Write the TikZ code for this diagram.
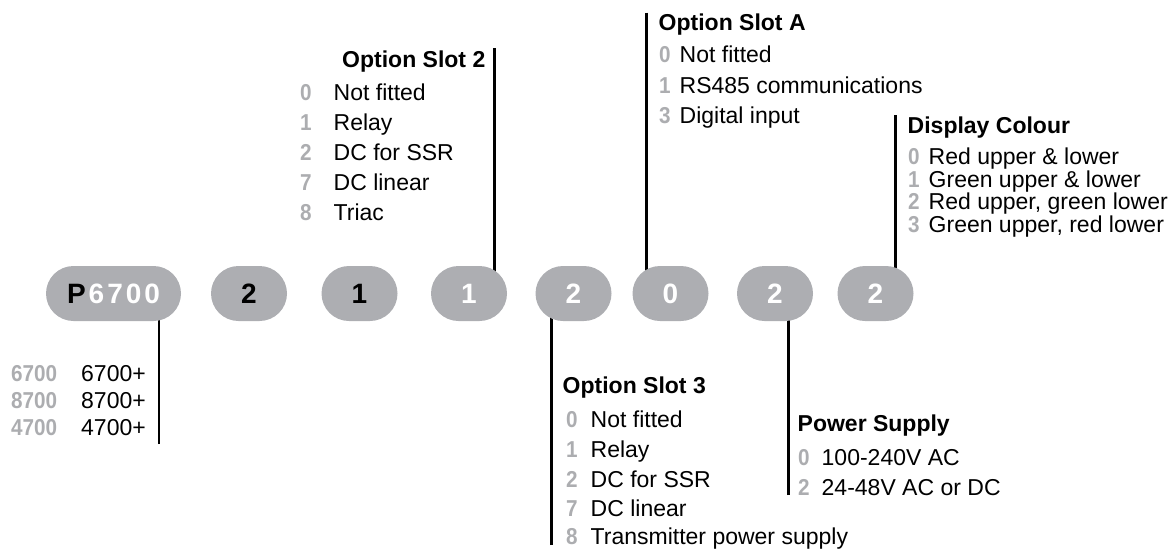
\documentclass[tikz,border=0pt]{standalone}
\usepackage{fontspec}
\setmainfont{Liberation Sans}
\usetikzlibrary{backgrounds}
\definecolor{pillgray}{RGB}{173,174,178}
\definecolor{digitgray}{RGB}{172,173,176}
\newcommand\cd[1]{\scalebox{0.9}[1]{#1}}
\tikzset{
  pill/.style={draw=none, fill=pillgray, rounded corners=27.5pt, minimum width=76pt,
    minimum height=55pt, inner sep=0pt, font=\fontsize{28}{30}\selectfont\bfseries},
  leader/.style={line width=2.7pt, draw=black},
  heading/.style={inner sep=0pt, font=\fontsize{23}{26}\selectfont\bfseries, anchor=base west},
  item/.style={inner sep=0pt, font=\fontsize{23}{26}\selectfont, anchor=base west},
  code/.style={inner sep=0pt, font=\fontsize{23}{26}\selectfont\bfseries, text=digitgray, anchor=base west},
}
\begin{document}
\begin{tikzpicture}[x=1pt,y=-1pt]
\useasboundingbox (0,0) rectangle (1175,549);

% code pills
\node[pill, minimum width=135pt] (p1) at (113.5,293.5) {P\kern3pt\textcolor{white}{6\kern3pt7\kern3pt0\kern3pt0}};
\node[pill] (p2) at (249,293.5) {2};
\node[pill] (p3) at (359.5,293.5) {1};
\node[pill, text=white] (p4) at (469,293.5) {1};
\node[pill, text=white] (p5) at (573.5,293.5) {2};
\node[pill, text=white] (p6) at (670.5,293.5) {0};
\node[pill, text=white] (p7) at (775,293.5) {2};
\node[pill, text=white] (p8) at (875.5,293.5) {2};

% leader ends
\coordinate (e1) at (159,444);
\coordinate (e2) at (494.5,48.3);
\coordinate (e3) at (551.5,545);
\coordinate (eA) at (646.7,12.7);
\coordinate (eP) at (788.7,495);
\coordinate (eD) at (895.8,115);

\begin{scope}[on background layer]
\draw[leader] (e1) -- (e1 |- p1.center);
\draw[leader] (e2) -- (e2 |- p4.center);
\draw[leader] (e3) -- (e3 |- p5.center);
\draw[leader] (eA) -- (eA |- p6.center);
\draw[leader] (eP) -- (eP |- p7.center);
\draw[leader] (eD) -- (eD |- p8.center);
\end{scope}

% model list
\node[code] (c67) at (11,381.7) {\cd{6700}};
\node[item] (t67) at (81,381.7) {6700+};
\node[code] (c87) at (11,408.7) {\cd{8700}};
\node[item] (t87) at (81,408.7) {8700+};
\node[code] (c47) at (11,435.2) {\cd{4700}};
\node[item] (t47) at (81,435.2) {4700+};

% Option Slot 2
\node[heading, anchor=base east] (h2) at (485.5,67.2) {Option Slot 2};
\node[code] (s2c0) at (300,100) {\cd{0}};
\node[item] (s2t0) at (333.5,100) {Not fitted};
\node[code] (s2c1) at (300,130) {\cd{1}};
\node[item] (s2t1) at (333.5,130) {Relay};
\node[code] (s2c2) at (300,160) {\cd{2}};
\node[item] (s2t2) at (333.5,160) {DC for SSR};
\node[code] (s2c7) at (300,190) {\cd{7}};
\node[item] (s2t7) at (333.5,190) {DC linear};
\node[code] (s2c8) at (300,220) {\cd{8}};
\node[item] (s2t8) at (333.5,220) {Triac};

% Option Slot A
\node[heading] (hA) at (658.5,30.9) {Option Slot A};
\node[code] (sAc0) at (659,62.5) {\cd{0}};
\node[item] (sAt0) at (679.5,62.5) {Not fitted};
\node[code] (sAc1) at (659,93) {\cd{1}};
\node[item] (sAt1) at (679.5,93) {RS485 communications};
\node[code] (sAc3) at (659,123.5) {\cd{3}};
\node[item] (sAt3) at (679.5,123.5) {Digital input};

% Display Colour
\node[heading] (hD) at (907.5,133.8) {Display Colour};
\node[code] (sDc0) at (908,164.9) {\cd{0}};
\node[item] (sDt0) at (928.5,164.9) {Red upper \& lower};
\node[code] (sDc1) at (908,187.2) {\cd{1}};
\node[item] (sDt1) at (928.5,187.2) {Green upper \& lower};
\node[code] (sDc2) at (908,209.9) {\cd{2}};
\node[item] (sDt2) at (928.5,209.9) {Red upper, green lower};
\node[code] (sDc3) at (908,232.5) {\cd{3}};
\node[item] (sDt3) at (928.5,232.5) {Green upper, red lower};

% Option Slot 3
\node[heading] (h3) at (562.5,393.2) {Option Slot 3};
\node[code] (s3c0) at (566,427) {\cd{0}};
\node[item] (s3t0) at (590.5,427) {Not fitted};
\node[code] (s3c1) at (566,457.5) {\cd{1}};
\node[item] (s3t1) at (590.5,457.5) {Relay};
\node[code] (s3c2) at (566,487) {\cd{2}};
\node[item] (s3t2) at (590.5,487) {DC for SSR};
\node[code] (s3c7) at (566,516) {\cd{7}};
\node[item] (s3t7) at (590.5,516) {DC linear};
\node[code] (s3c8) at (566,544.3) {\cd{8}};
\node[item] (s3t8) at (590.5,544.3) {Transmitter power supply};

% Power Supply
\node[heading] (hP) at (797.5,431.2) {Power Supply};
\node[code] (sPc0) at (798,465) {\cd{0}};
\node[item] (sPt0) at (821.5,465) {100-240V AC};
\node[code] (sPc2) at (798,495) {\cd{2}};
\node[item] (sPt2) at (821.5,495) {24-48V AC or DC};
\end{tikzpicture}
\end{document}
